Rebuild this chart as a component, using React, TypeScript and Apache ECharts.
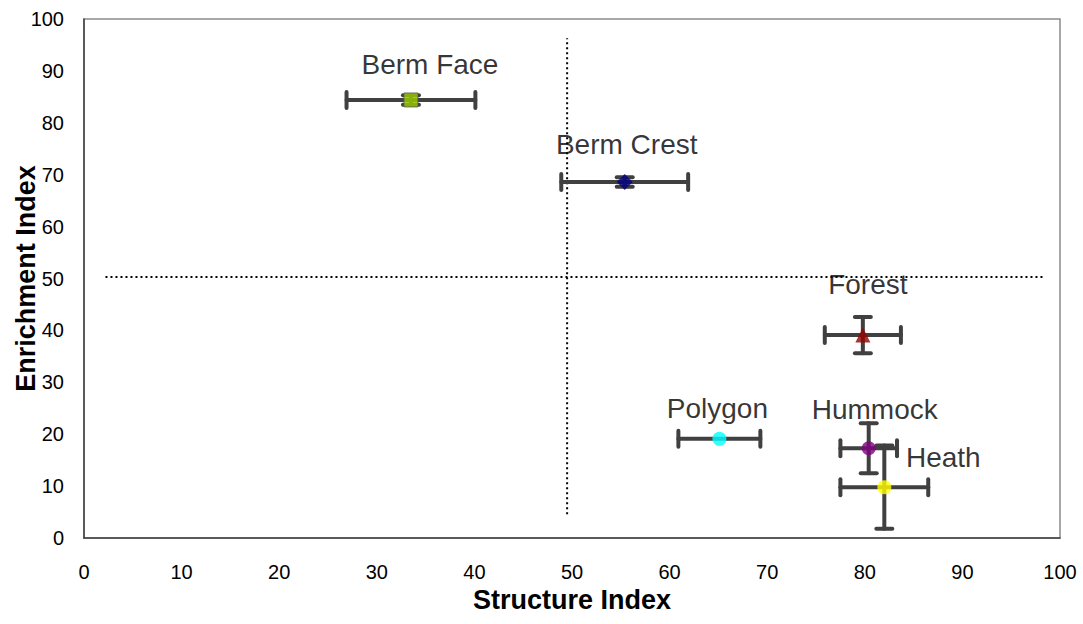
import React, { useEffect, useRef } from "react";
import * as echarts from "echarts";

const names = ["Berm Face", "Berm Crest", "Forest", "Polygon", "Hummock", "Heath"];
const structureIndex = [33.5, 55.4, 79.8, 65.1, 80.4, 82.0];
const enrichmentIndex = [84.4, 68.6, 39.1, 19.1, 17.3, 9.8];
const structureErr = [6.6, 6.5, 3.9, 4.2, 2.9, 4.5];
const enrichmentErr = [0.9, 0.9, 3.5, 0, 4.8, 8.0];
const symbols = ["rect", "diamond", "triangle", "circle", "circle", "circle"];
const colors = ["#99cc00", "#000080", "#990000", "#00ffff", "#800080", "#ffff00"];
const labelOffsets = [
  [19, -35],
  [2, -37],
  [5, -51],
  [-2, -30],
  [6, -39],
  [59, -30],
];
const xTicks = [0, 10, 20, 30, 40, 50, 60, 70, 80, 90, 100];
const yTicks = [0, 10, 20, 30, 40, 50, 60, 70, 80, 90, 100];
const hLine = [[2.2, 50.3], [98.3, 50.3]];
const vLine = [[49.5, 4.6], [49.5, 96.3]];

export default function App() {
  const ref = useRef<HTMLDivElement>(null);
  useEffect(() => {
    if (!ref.current) return;
    const chart = echarts.init(ref.current, null, { renderer: "svg" });
    const font = "Liberation Sans, Arial, sans-serif";
    const barColor = "#404040";
    const errData = names.map((n, i) => [
      structureIndex[i],
      enrichmentIndex[i],
      structureErr[i],
      enrichmentErr[i],
    ]);
    chart.setOption({
      animation: false,
      backgroundColor: "#ffffff",
      grid: {
        left: 84,
        top: 19,
        right: 23,
        bottom: 86,
        containLabel: false,
        outerBoundsMode: "none",
        show: true,
        borderColor: "#8c8c8c",
        borderWidth: 1.5,
      },
      xAxis: {
        type: "value",
        min: xTicks[0],
        max: xTicks[xTicks.length - 1],
        interval: 10,
        name: "Structure Index",
        nameLocation: "middle",
        nameGap: 48,
        nameMoveOverlap: false,
        nameTextStyle: { fontFamily: font, fontSize: 27, fontWeight: "bold", color: "#000" },
        axisLine: { show: true, lineStyle: { color: "#404040", width: 1.5 } },
        axisTick: { show: false },
        splitLine: { show: false },
        axisLabel: { fontFamily: font, fontSize: 20, color: "#000", margin: 24 },
      },
      yAxis: {
        type: "value",
        min: yTicks[0],
        max: yTicks[yTicks.length - 1],
        interval: 10,
        name: "Enrichment Index",
        nameLocation: "middle",
        nameGap: 45,
        nameMoveOverlap: false,
        nameTextStyle: { fontFamily: font, fontSize: 27, fontWeight: "bold", color: "#000" },
        axisLine: { show: true, lineStyle: { color: "#404040", width: 1.5 } },
        axisTick: { show: false },
        splitLine: { show: false },
        axisLabel: { fontFamily: font, fontSize: 20, color: "#000", margin: 20 },
      },
      series: [
        {
          type: "line",
          data: hLine,
          symbol: "none",
          silent: true,
          lineStyle: { color: "#000", width: 2, type: [2, 3] },
          z: 1,
        },
        {
          type: "line",
          data: vLine,
          symbol: "none",
          silent: true,
          lineStyle: { color: "#000", width: 2, type: [2, 3] },
          z: 1,
        },
        {
          type: "custom",
          data: errData,
          z: 2,
          renderItem: (params: any, api: any) => {
            const x = api.value(0);
            const y = api.value(1);
            const ex = api.value(2);
            const ey = api.value(3);
            const c = api.coord([x, y]);
            const l = api.coord([x - ex, y]);
            const r = api.coord([x + ex, y]);
            const cap = 8;
            const style = { stroke: barColor, lineWidth: 4, lineCap: "round" };
            const children: any[] = [
              { type: "line", shape: { x1: l[0], y1: c[1], x2: r[0], y2: c[1] }, style },
              { type: "line", shape: { x1: l[0], y1: c[1] - cap, x2: l[0], y2: c[1] + cap }, style },
              { type: "line", shape: { x1: r[0], y1: c[1] - cap, x2: r[0], y2: c[1] + cap }, style },
            ];
            if (ey > 0) {
              const t = api.coord([x, y + ey]);
              const b = api.coord([x, y - ey]);
              children.push(
                { type: "line", shape: { x1: c[0], y1: t[1], x2: c[0], y2: b[1] }, style },
                { type: "line", shape: { x1: c[0] - cap, y1: t[1], x2: c[0] + cap, y2: t[1] }, style },
                { type: "line", shape: { x1: c[0] - cap, y1: b[1], x2: c[0] + cap, y2: b[1] }, style }
              );
            }
            return { type: "group", children };
          },
        },
        {
          type: "scatter",
          z: 3,
          data: names.map((n, i) => ({
            name: n,
            value: [structureIndex[i], enrichmentIndex[i]],
            symbol: symbols[i],
            symbolSize: symbols[i] === "triangle" ? 15 : symbols[i] === "diamond" ? 16 : 14,
            itemStyle: {
              color: colors[i],
              borderColor: symbols[i] === "rect" ? "#555" : colors[i],
              borderWidth: symbols[i] === "rect" ? 1 : 0,
            },
            label: {
              show: true,
              formatter: n,
              position: "inside",
              offset: labelOffsets[i],
              fontFamily: font,
              fontSize: 28,
              color: "#000",
              textBorderWidth: 0,
              textBorderColor: "transparent",
            },
          })),
        },
      ],
    });
    return () => chart.dispose();
  }, []);
  return (
    <div
      ref={ref}
      style={{ position: "fixed", left: 0, top: 0, width: 1083, height: 624, background: "#fff" }}
    />
  );
}
